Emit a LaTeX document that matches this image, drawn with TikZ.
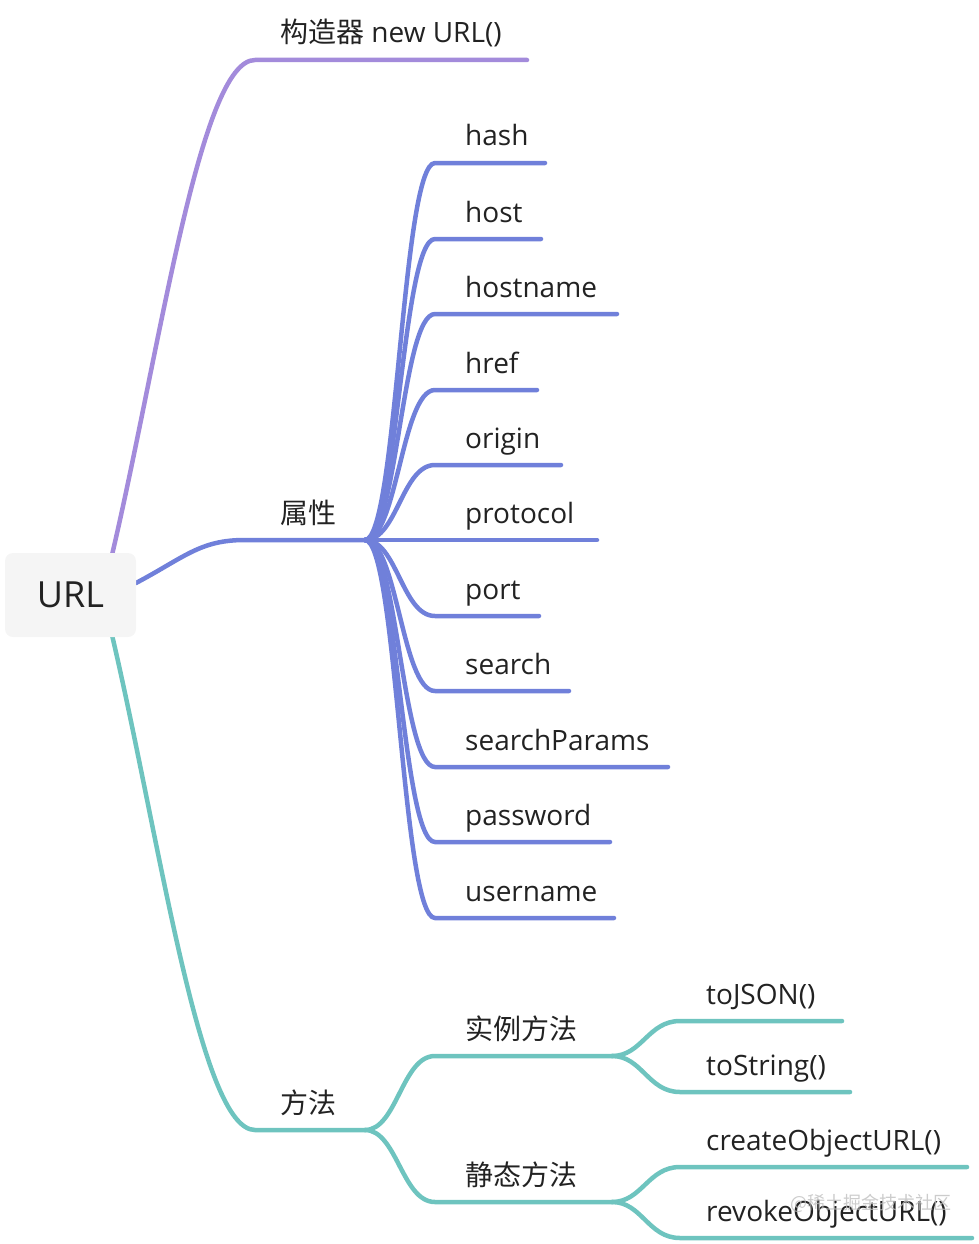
\documentclass[tikz,border=0pt]{standalone}
\usepackage{fontspec}
\setmainfont{Open Sans}
\newfontfamily\cjk{Noto Sans CJK SC}
\definecolor{cpurple}{RGB}{163,139,219}
\definecolor{cblue}{RGB}{112,128,218}
\definecolor{cteal}{RGB}{110,196,191}
\definecolor{boxfill}{RGB}{245,245,245}
\definecolor{txt}{RGB}{34,34,34}
\begin{document}
\begin{tikzpicture}[x=1pt,y=-1pt,
  branch/.style={line width=4.5pt, line cap=round},
  lbl/.style={anchor=base west, inner sep=0pt, font=\fontsize{28}{32}\selectfont, text=txt},
  rootbox/.style={fill=boxfill, rounded corners=8pt, minimum width=131pt, minimum height=84pt, inner sep=0pt, font=\fontsize{36}{40}\selectfont, text=txt},
  wmark/.style={anchor=base west, inner sep=0pt, font=\cjk\fontsize{18}{20}\selectfont, text=black!25, opacity=0.8}
]
\useasboundingbox (0,0) rectangle (978,1244);
% anchor coordinates
\coordinate (ps) at (112,555);
\coordinate (pe) at (255,60);
\coordinate (pend) at (527,60);
\coordinate (bs) at (136,583);
\coordinate (be) at (245,540);
\coordinate (bh) at (365,540);
\coordinate (ts) at (112,635);
\coordinate (te) at (255,1130);
\coordinate (th) at (365,1130);
\coordinate (ih) at (612,1056);
\coordinate (sh) at (612,1202);

% constructor branch
\draw[branch,cpurple] (ps) .. controls (160,350) and (200,60) .. (pe) -- (pend);
\node[lbl] (ctor) at (280,43) {{\cjk 构造器} new URL()};

% properties branch
\draw[branch,cblue] (bs) .. controls (185,557) and (200,540) .. (be) -- (bh);
\node[lbl] (props) at (280,523) {\cjk 属性};
\foreach \y/\e/\t [count=\i] in {163/545/hash, 239/541/host, 314/617/hostname, 390/537/href, 465/561/origin, 540/597/protocol, 616/539/port, 691/569/search, 767/668/searchParams, 842/610/password, 918/614/username}{
  \coordinate (bc\i) at (435,\y);
  \coordinate (bx\i) at (\e,\y);
  \draw[branch,cblue] (bh) .. controls (397,540) and (402,\y) .. (bc\i) -- (bx\i);
  \node[lbl] (bt\i) at (465,\y-17) {\t};
}

% methods branch
\draw[branch,cteal] (ts) .. controls (160,840) and (200,1130) .. (te) -- (th);
\node[lbl] (meth) at (280,1113) {\cjk 方法};
\coordinate (ic) at (435,1056);
\coordinate (sc) at (435,1202);
\draw[branch,cteal] (th) .. controls (397,1130) and (402,1056) .. (ic) -- (ih);
\draw[branch,cteal] (th) .. controls (397,1130) and (402,1202) .. (sc) -- (sh);
\node[lbl] (inst) at (465,1039) {\cjk 实例方法};
\node[lbl] (stat) at (465,1185) {\cjk 静态方法};

\coordinate (j1) at (680,1021); \coordinate (j2) at (842,1021);
\coordinate (s1) at (680,1092); \coordinate (s2) at (850,1092);
\coordinate (c1) at (680,1167); \coordinate (c2) at (967,1167);
\coordinate (r1) at (680,1238); \coordinate (r2) at (972,1238);
\draw[branch,cteal] (ih) .. controls (642,1056) and (648,1021) .. (j1) -- (j2);
\draw[branch,cteal] (ih) .. controls (642,1056) and (648,1092) .. (s1) -- (s2);
\draw[branch,cteal] (sh) .. controls (642,1202) and (648,1167) .. (c1) -- (c2);
\draw[branch,cteal] (sh) .. controls (642,1202) and (648,1238) .. (r1) -- (r2);
\node[lbl] (tojson) at (706,1004) {toJSON()};
\node[lbl] (tostr) at (706,1075) {toString()};
\node[lbl] (create) at (706,1150) {createObjectURL()};
\node[lbl] (revoke) at (706,1221) {revokeObjectURL()};
\node[wmark] (wm) at (790,1209) {@稀土掘金技术社区};

% root
\node[rootbox] (url) at (70.5,595) {URL};
\end{tikzpicture}
\end{document}
